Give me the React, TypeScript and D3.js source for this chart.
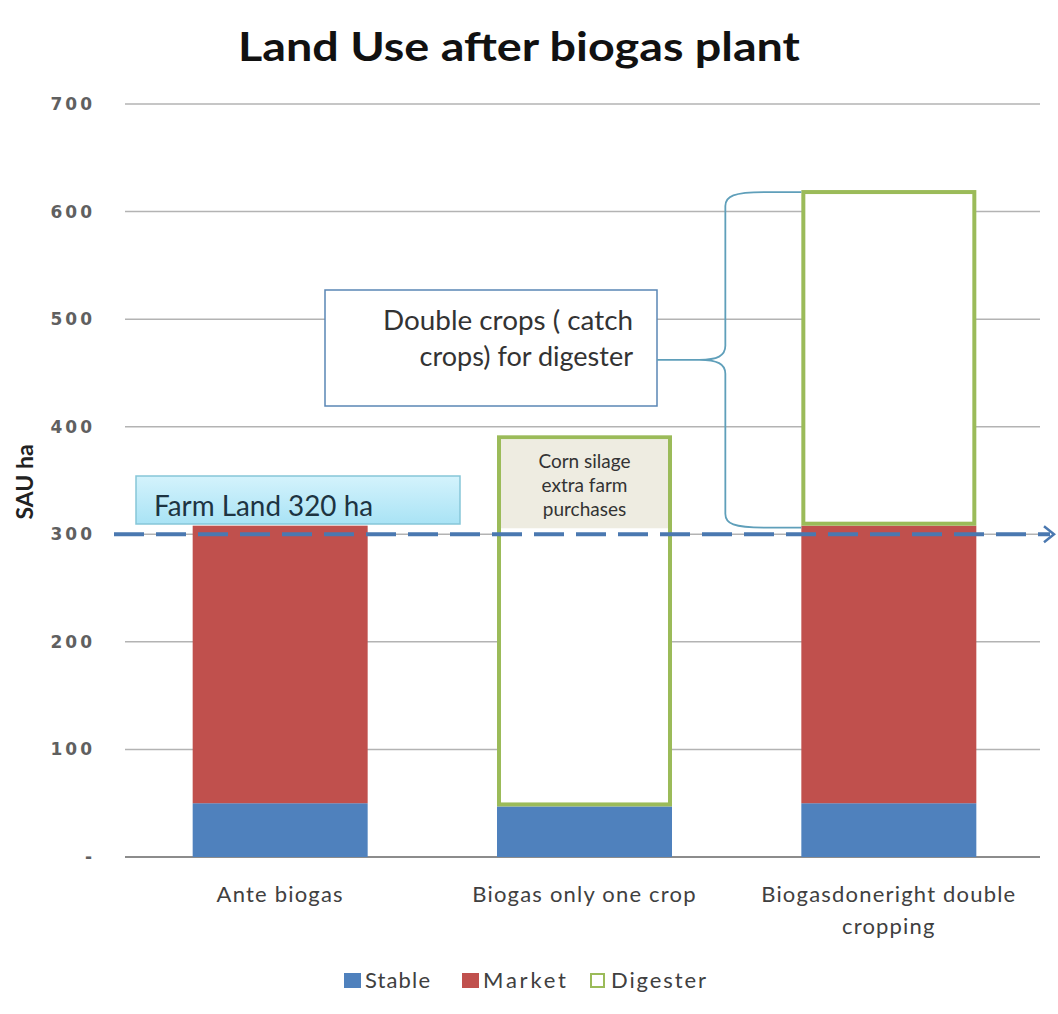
import * as d3 from "d3";

const categories = ["Ante biogas", "Biogas only one crop", "Biogasdoneright double cropping"];
const categoryLines = [["Ante biogas"], ["Biogas only one crop"], ["Biogasdoneright double", "cropping"]];
const stableValues = [50, 47, 50];
const marketValues = [258, 0, 258];
const digesterValues = [0, 345, 312];
const yTicks = [0, 100, 200, 300, 400, 500, 600, 700];
const farmLandLevel = 300;

const seriesNames = ["Stable", "Market", "Digester"];
const COLORS = { Stable: "#4f81bd", Market: "#c0504d", Digester: "#9bbb59" };

const WIDTH = 1058;
const HEIGHT = 1014;
const PLOT_LEFT = 125;
const PLOT_RIGHT = 1040;
const FONT = "Lato, 'Open Sans', sans-serif";

export default function App() {
  const x = d3.scaleBand<string>().domain(categories).range([128, 1041]).paddingInner(0.425).paddingOuter(0.2125);
  const y = d3.scaleLinear().domain([0, 700]).range([857, 104]);

  const rows = categories.map((c, i) => ({
    category: c,
    Stable: stableValues[i],
    Market: marketValues[i],
    Digester: digesterValues[i]
  }));
  const stacked = d3.stack<any>().keys(seriesNames)(rows);

  // brace next to the third bar
  const bar3Left = x(categories[2])!;
  const braceTop = y(stableValues[2] + marketValues[2] + digesterValues[2]) + 2;
  const braceBottom = y(stableValues[2] + marketValues[2]) + 2;
  const braceMid = (braceTop + braceBottom) / 2;
  const bx = bar3Left - 76;
  const tipX = bx - 26;
  const bracePath = [
    `M${bar3Left},${braceTop}`,
    `L${bx + 40},${braceTop}`,
    `C${bx + 8},${braceTop} ${bx},${braceTop + 4} ${bx},${braceTop + 14}`,
    `L${bx},${braceMid - 14}`,
    `C${bx},${braceMid - 4} ${bx - 8},${braceMid} ${tipX},${braceMid}`,
    `L657,${braceMid}`,
    `M${tipX},${braceMid}`,
    `C${bx - 8},${braceMid} ${bx},${braceMid + 4} ${bx},${braceMid + 14}`,
    `L${bx},${braceBottom - 14}`,
    `C${bx},${braceBottom - 4} ${bx + 8},${braceBottom} ${bx + 40},${braceBottom}`,
    `L${bar3Left},${braceBottom}`
  ].join(" ");

  const bar2 = x(categories[1])!;
  const dashY = y(farmLandLevel);

  const legendItems = [
    { name: "Stable", x: 344, w: 65 },
    { name: "Market", x: 462, w: 83 },
    { name: "Digester", x: 590, w: 95 }
  ];

  return (
    <svg
      width={WIDTH}
      height={HEIGHT}
      style={{ position: "absolute", left: 0, top: 0, background: "#fff" }}
      fontFamily={FONT}
    >
      <defs>
        <linearGradient id="farmFill" x1="0" y1="0" x2="0" y2="1">
          <stop offset="0" stopColor="#d4f3fc" />
          <stop offset="1" stopColor="#a9e3f5" />
        </linearGradient>
      </defs>

      <text x={519} y={61} textAnchor="middle" fontSize={41} fontWeight="bold" fill="#111" textLength={562} lengthAdjust="spacingAndGlyphs">
        Land Use after biogas plant
      </text>

      {/* grid */}
      {yTicks.map((t) => (
        <g key={t}>
          <line x1={PLOT_LEFT} x2={PLOT_RIGHT} y1={y(t)} y2={y(t)} stroke={t === 0 ? "#8c8c8c" : "#b3b3b3"} strokeWidth={t === 0 ? 2 : 1.5} />
          <text x={95} y={y(t) + 6} textAnchor="end" fontSize={17} fontWeight="bold" fill="#606060" letterSpacing={3} fontFamily="'DejaVu Sans', sans-serif">
            {t === 0 ? "-" : t}
          </text>
        </g>
      ))}

      <text transform={`translate(33,482) rotate(-90)`} textAnchor="middle" fontSize={23} fontWeight="bold" fill="#222">
        SAU ha
      </text>

      {/* bars */}
      {stacked.map((layer) =>
        layer.map((d, i) => {
          const h = y(d[0]) - y(d[1]);
          if (h <= 0) return null;
          const key = layer.key as keyof typeof COLORS;
          if (key === "Digester") {
            return (
              <rect key={`${key}-${i}`} x={x(categories[i])! + 2} y={y(d[1]) + 2} width={x.bandwidth() - 4} height={h - 4} fill="#fff" stroke={COLORS.Digester} strokeWidth={4} />
            );
          }
          return <rect key={`${key}-${i}`} x={x(categories[i])} y={y(d[1])} width={x.bandwidth()} height={h} fill={COLORS[key]} />;
        })
      )}

      {/* corn silage note */}
      <rect x={bar2 + 4} y={y(stableValues[1] + digesterValues[1]) + 4} width={x.bandwidth() - 8} height={dashY - y(stableValues[1] + digesterValues[1]) - 10} fill="#eeece1" />
      {["Corn silage", "extra farm", "purchases"].map((s, i) => (
        <text key={s} x={bar2 + x.bandwidth() / 2} y={468 + i * 24} textAnchor="middle" fontSize={19} fill="#333">
          {s}
        </text>
      ))}

      {/* farm land label */}
      <rect x={136} y={476} width={324} height={48} fill="url(#farmFill)" stroke="#86c6d8" strokeWidth={1.5} />
      <text x={154} y={516} fontSize={28} fill="#1d3442" textLength={219} lengthAdjust="spacingAndGlyphs">Farm Land 320 ha</text>

      {/* dashed farm land line */}
      <line x1={114} x2={1050} y1={dashY} y2={dashY} stroke="#4a78b0" strokeWidth={4} strokeDasharray="30 12" />
      <path d={`M1044,${dashY - 8} L1054,${dashY} L1044,${dashY + 8}`} fill="none" stroke="#4a78b0" strokeWidth={2.5} />

      {/* double crops callout */}
      <rect x={325} y={290} width={332} height={116} fill="#fff" stroke="#5a86b5" strokeWidth={1.5} />
      <text x={633} y={330} textAnchor="end" fontSize={27} fill="#333" textLength={250} lengthAdjust="spacingAndGlyphs">Double crops ( catch</text>
      <text x={633} y={366} textAnchor="end" fontSize={27} fill="#333">crops) for digester</text>
      <path d={bracePath} fill="none" stroke="#5f9fba" strokeWidth={1.8} />

      {/* x labels */}
      {categoryLines.map((lines, i) =>
        lines.map((s, j) => (
          <text key={s} x={x(categories[i])! + x.bandwidth() / 2} y={902 + j * 32} textAnchor="middle" fontSize={22} fill="#404040" letterSpacing={1.2}>
            {s}
          </text>
        ))
      )}

      {/* legend */}
      {legendItems.map((item) => (
        <g key={item.name}>
          {item.name === "Digester" ? (
            <rect x={item.x + 1} y={974} width={13} height={13} fill="#fff" stroke={COLORS.Digester} strokeWidth={2} />
          ) : (
            <rect x={item.x} y={973} width={17} height={15} fill={COLORS[item.name as keyof typeof COLORS]} />
          )}
          <text x={item.x + 21} y={988} fontSize={22} fill="#404040" textLength={item.w} lengthAdjust="spacing">{item.name}</text>
        </g>
      ))}
    </svg>
  );
}
